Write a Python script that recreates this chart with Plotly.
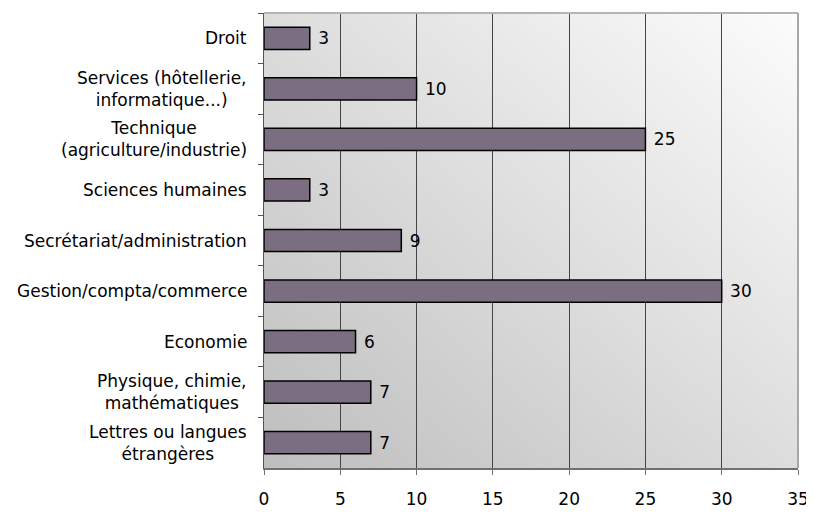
import base64
import plotly.graph_objects as go

categories = [
    "Droit",
    "Services (hôtellerie,<br>informatique...)",
    "Technique<br>(agriculture/industrie)",
    "Sciences humaines",
    "Secrétariat/administration",
    "Gestion/compta/commerce",
    "Economie",
    "Physique, chimie,<br>mathématiques",
    "Lettres ou langues<br>étrangères",
]
values = [3, 10, 25, 3, 9, 30, 6, 7, 7]
x_ticks = [0, 5, 10, 15, 20, 25, 30, 35]

FONT = "DejaVu Sans, Verdana, sans-serif"

svg = (
    '<svg xmlns="http://www.w3.org/2000/svg" width="100" height="100" preserveAspectRatio="none" viewBox="0 0 100 100">'
    '<defs><linearGradient id="g" x1="0" y1="1" x2="1" y2="0">'
    '<stop offset="0" stop-color="#BEBEBE"/><stop offset="1" stop-color="#FCFCFC"/>'
    '</linearGradient></defs><rect width="100" height="100" fill="url(#g)"/></svg>'
)
src = "data:image/svg+xml;base64," + base64.b64encode(svg.encode()).decode()

fig = go.Figure()
fig.add_trace(go.Bar(
    x=values, y=categories, orientation="h",
    marker=dict(color="#7B6E80", line=dict(color="#000000", width=1.5)),
    width=0.44,
    text=["\u00a0" + str(v) for v in values], textposition="outside",
    textfont=dict(family=FONT, size=17, color="#000000"),
    cliponaxis=False,
))

annotations = []
for c in categories:
    annotations.append(dict(
        x=0, xref="paper", xshift=-15, y=c, yref="y",
        text=c, showarrow=False, xanchor="right", align="center",
        font=dict(family=FONT, size=17, color="#000000"),
    ))

shapes = [
    dict(type="line", xref="paper", yref="paper", x0=0, x1=1, y0=1, y1=1,
         line=dict(color="#B4B4B4", width=2), layer="above"),
    dict(type="line", xref="paper", yref="paper", x0=1, x1=1, y0=0, y1=1,
         line=dict(color="#A8A8A8", width=2), layer="above"),
]

# page body has an 8px margin, so figure coordinates are offset by 8px
fig.update_layout(
    width=806, height=506,
    margin=dict(l=256, r=14, t=5, b=32),
    paper_bgcolor="#FFFFFF", plot_bgcolor="rgba(0,0,0,0)",
    showlegend=False,
    annotations=annotations,
    shapes=shapes,
    images=[dict(source=src, xref="paper", yref="paper", x=0, y=1, sizex=1, sizey=1,
                 sizing="stretch", layer="below", xanchor="left", yanchor="top")],
    font=dict(family=FONT, color="#000000"),
)
fig.update_xaxes(
    range=[0, 35], tickvals=x_ticks, ticktext=[str(t) for t in x_ticks],
    showgrid=True, gridcolor="#444444", gridwidth=1,
    ticks="outside", ticklen=5, tickcolor="#707070", ticklabelstandoff=10,
    showline=True, linecolor="#707070", linewidth=2,
    zeroline=False,
    tickfont=dict(family=FONT, size=17, color="#000000"),
)
fig.update_yaxes(
    categoryorder="array", categoryarray=categories, autorange="reversed",
    showticklabels=False, tickson="boundaries", ticks="outside", ticklen=5,
    tickcolor="#555555", showgrid=False,
    showline=True, linecolor="#555555", linewidth=1,
)
fig.write_html("out.html")
